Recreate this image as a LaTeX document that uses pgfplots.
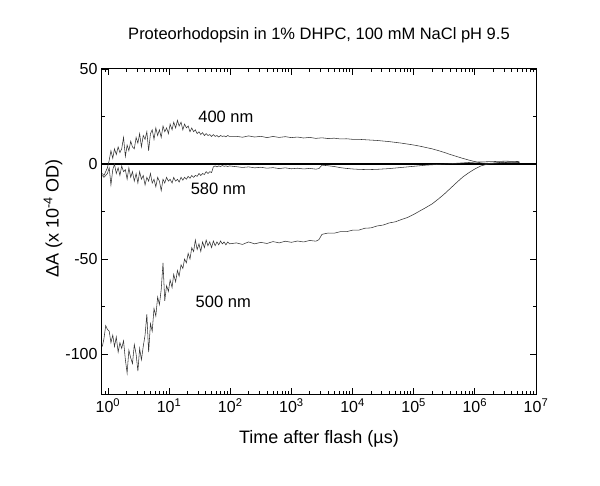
\documentclass[border=0pt]{standalone}
\usepackage{fontspec}
\setmainfont{Liberation Sans}
\usepackage{pgfplots}
\pgfplotsset{compat=1.18}
\usepackage{pgfplotstable}

% 400 nm
\pgfplotstableread{
t v
0.81 -5
0.86 -6
0.92 -4
0.98 -2
1.05 2
1.12 7
1.2 3
1.28 8
1.37 5
1.47 9
1.57 6
1.68 8
1.8 14
1.93 4
2.06 10
2.2 7
2.36 12
2.52 9
2.7 8
2.89 14
3.09 11
3.3 16
3.53 9
3.78 15
4.05 13
4.33 17
4.63 7
4.96 16
5.3 18
5.67 13
6.07 19
6.5 15
6.95 18
7.44 14
7.96 20
8.5 17
9.1 19
9.75 16
10.4 21
11.2 18
11.9 22
12.8 19
13.7 23
14.6 20
15.7 22
16.8 18
17.9 21
19.2 19
20.5 20
22 17
23.5 19
25.2 17
26.9 18
28.8 16
30.8 17
33 15.5
35.3 16.5
37.8 15
40.4 16
43.2 15
46.3 15.5
49.5 14.5
53 15.5
56.7 14.5
60.6 15
64.9 14.2
69.4 15
74.3 14.5
79.5 14.8
85 14.3
91 15
97.4 14.5
125.9 14.6
158.5 14.1
199.5 14.8
251.2 14.2
316.2 14.6
398.1 13.9
501.2 14.5
631 14.0
794.3 14.4
1000 13.9
1259 14.2
1585 13.7
1995 14.0
2512 13.5
3162 13.8
3981 13.4
5012 13.6
6310 13.2
7943 13.3
1e4 13.0
1.259e4 13.0
1.585e4 12.8
1.995e4 12.6
2.512e4 12.4
3.162e4 12.1
3.981e4 11.8
5.012e4 11.4
6.310e4 11.0
7.943e4 10.5
1e5 10.0
1.259e5 9.4
1.585e5 8.7
1.995e5 8.0
2.512e5 7.1
3.162e5 6.1
3.981e5 5.0
5.012e5 4.0
6.310e5 3.0
7.943e5 2.1
1e6 1.3
1.259e6 0.6
1.585e6 0.3
1.995e6 0.5
2.512e6 0.8
3.162e6 1.0
3.981e6 1.1
5.37e6 0.9
}\dataA

% 580 nm
\pgfplotstableread{
t v
0.81 -6
0.86 -7
0.92 -6
0.98 -5
1.05 -2
1.12 -11
1.2 -3
1.28 0
1.37 -5
1.47 -2
1.57 -6
1.68 -1
1.8 -4
1.93 -3
2.06 -8
2.2 -2
2.36 -7
2.52 -4
2.7 -9
2.89 -5
3.09 -10
3.3 -4
3.53 -8
3.78 -6
4.05 -11
4.33 -7
4.63 -9
4.96 -5
5.3 -10
5.67 -8
6.07 -12
6.5 -7
6.95 -9
7.44 -14
7.96 -8
8.5 -10
9.1 -7
9.75 -9
10.4 -8
11.2 -10
11.9 -7
12.8 -9
13.7 -8
14.6 -9.5
15.7 -7
16.8 -8.5
17.9 -7
19.2 -8
20.5 -6.5
22 -7.5
23.5 -6
25.2 -7
26.9 -6
28.8 -6.5
30.8 -5
33 -6
35.3 -5
37.8 -5.5
40.4 -4
43.2 -5
46.3 -4
49.5 -4.5
53 -1.5
56.7 -1
60.6 -1.5
64.9 -1
69.4 -1.3
74.3 -0.8
79.5 -1.2
85 -1
91 -1.3
97.4 -1
125.9 -1.4
158.5 -1.8
199.5 -1.5
251.2 -2.0
316.2 -1.7
398.1 -2.2
501.2 -1.9
631 -2.4
794.3 -2.0
1000 -2.5
1259 -2.2
1585 -2.6
1995 -2.3
2512 -2.7
2818 -2.4
3162 -0.6
3981 -0.9
5012 -1.3
6310 -1.9
7943 -2.3
1e4 -2.6
1.259e4 -2.8
1.585e4 -2.9
1.995e4 -2.9
2.512e4 -2.8
3.162e4 -2.6
3.981e4 -2.4
5.012e4 -2.1
6.310e4 -1.8
7.943e4 -1.5
1e5 -1.2
1.259e5 -0.9
1.585e5 -0.6
1.995e5 -0.4
2.512e5 -0.2
3.162e5 0.0
3.981e5 0.2
5.012e5 0.4
6.310e5 0.6
7.943e5 0.8
1e6 1.0
1.259e6 1.1
1.585e6 1.2
1.995e6 1.3
2.512e6 1.4
3.162e6 1.5
3.981e6 1.4
5.37e6 1.3
}\dataB

% 500 nm
\pgfplotstableread{
t v
0.81 -96
0.86 -92
0.92 -85
0.98 -87
1.05 -88
1.12 -94
1.2 -90
1.28 -96
1.37 -91
1.47 -99
1.57 -94
1.68 -97
1.8 -93
1.93 -103
2.06 -110
2.2 -98
2.36 -102
2.52 -105
2.7 -95
2.89 -100
3.09 -109
3.3 -97
3.53 -103
3.78 -96
4.05 -90
4.33 -79
4.63 -99
4.96 -84
5.3 -88
5.67 -76
6.07 -80
6.5 -70
6.95 -74
7.44 -66
7.96 -52
8.5 -72
9.1 -64
9.75 -67
10.4 -61
11.2 -65
11.9 -58
12.8 -62
13.7 -56
14.6 -59
15.7 -53
16.8 -55
17.9 -50
19.2 -52
20.5 -47
22 -50
23.5 -44
25.2 -46
26.9 -40
28.8 -45
30.8 -42
33 -46
35.3 -41
37.8 -44
40.4 -40
43.2 -43
46.3 -41
49.5 -44
53 -40.5
56.7 -43
60.6 -41
64.9 -42.5
69.4 -40.5
74.3 -42
79.5 -41
85 -42.5
91 -41
97.4 -42
125.9 -41.5
158.5 -42.3
199.5 -41
251.2 -42
316.2 -41.2
398.1 -41.8
501.2 -40.8
631 -41.5
794.3 -40.6
1000 -41.2
1259 -40.5
1585 -41
1995 -40.2
2512 -40.6
2818 -39.8
3162 -37.0
3981 -36.3
5012 -36.4
6310 -35.6
7943 -35.6
1e4 -34.8
1.259e4 -34.8
1.585e4 -33.8
1.995e4 -33.6
2.512e4 -32.6
3.162e4 -32.1
3.981e4 -31.0
5.012e4 -30.4
6.310e4 -29.2
7.943e4 -28.1
1e5 -26.5
1.259e5 -24.7
1.585e5 -22.9
1.995e5 -21.0
2.512e5 -18.5
3.162e5 -15.8
3.981e5 -12.8
5.012e5 -9.8
6.310e5 -6.9
7.943e5 -4.6
1e6 -2.6
1.259e6 -1.0
1.585e6 -0.1
1.995e6 0.4
2.512e6 0.6
3.162e6 0.8
3.981e6 0.9
5.37e6 0.8
}\dataC

\begin{document}
\begin{tikzpicture}
\useasboundingbox (-102pt,-91pt) rectangle (498pt,394pt);
\begin{axis}[
  scale only axis,
  width=434pt, height=325pt,
  xmode=log,
  xmin=0.8, xmax=1e7,
  ymin=-121, ymax=50,
  axis line style={line width=1pt},
  tick align=inside,
  major tick length=6pt,
  minor tick length=3.5pt,
  every tick/.style={black, line width=0.8pt},
  xtick={1,10,100,1000,1e4,1e5,1e6,1e7},
  xticklabels={10\textsuperscript{0},10\textsuperscript{1},10\textsuperscript{2},10\textsuperscript{3},10\textsuperscript{4},10\textsuperscript{5},10\textsuperscript{6},10\textsuperscript{7}},
  minor xtick={0.9,2,3,4,5,6,7,8,9,20,30,40,50,60,70,80,90,200,300,400,500,600,700,800,900,2e3,3e3,4e3,5e3,6e3,7e3,8e3,9e3,2e4,3e4,4e4,5e4,6e4,7e4,8e4,9e4,2e5,3e5,4e5,5e5,6e5,7e5,8e5,9e5,2e6,3e6,4e6,5e6,6e6,7e6,8e6,9e6},
  ytick={-100,-50,0,50},
  yticklabels={-100,-50,0,50},
  minor ytick={-75,-25,25},
  tick label style={font=\fontsize{16}{19}\selectfont},
  yticklabel style={xshift=-1pt},
  xticklabel style={yshift=-1pt},
  xlabel={Time after flash (µs)},
  ylabel={ΔA (x 10\textsuperscript{-4} OD)},
  label style={font=\fontsize{18}{21}\selectfont},
  xlabel style={at={(axis description cs:0.5,-0.138)}, anchor=center},
  ylabel style={at={(axis description cs:-0.113,0.54)}, anchor=center},
  title={Proteorhodopsin in 1\% DHPC, 100 mM NaCl pH 9.5},
  title style={font=\fontsize{16.5}{20}\selectfont, at={(axis description cs:0.5,1.086)}, anchor=center},
  clip=true,
]
\addplot[black, line width=1.3pt] coordinates {(0.8,0) (1e7,0)};
\addplot[black!80, line width=0.55pt] table[x=t, y=v] {\dataA};
\addplot[black!80, line width=0.55pt] table[x=t, y=v] {\dataB};
\addplot[black!80, line width=0.55pt] table[x=t, y=v] {\dataC};
\node[font=\fontsize{16.5}{20}\selectfont] at (axis cs:85,24.9) {400 nm};
\node[font=\fontsize{16.5}{20}\selectfont] at (axis cs:63.8,-12.8) {580 nm};
\node[font=\fontsize{16.5}{20}\selectfont] at (axis cs:76.9,-72.5) {500 nm};
\end{axis}
\end{tikzpicture}
\end{document}
